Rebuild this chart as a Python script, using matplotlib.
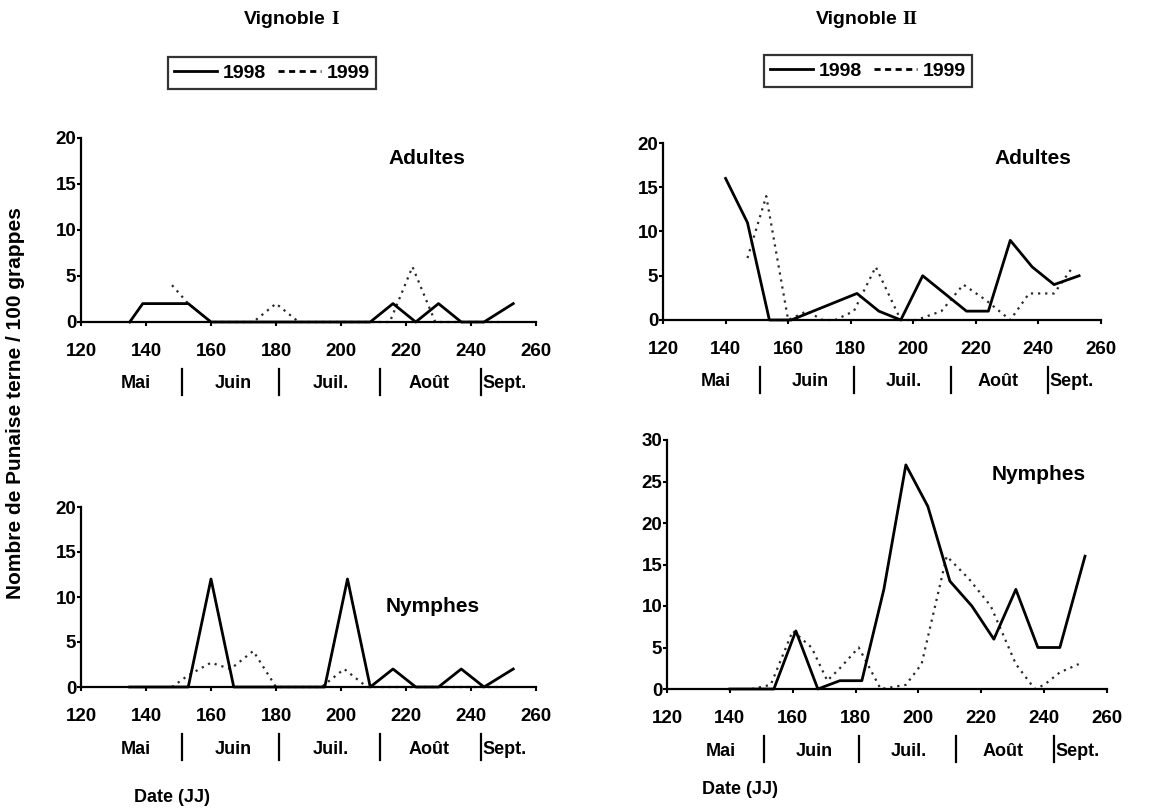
import matplotlib
matplotlib.use('Agg')
import matplotlib.pyplot as plt
from matplotlib.lines import Line2D

# Données (jour julien, nombre / 100 grappes)
jours_v1_1998 = [135, 139, 146, 153, 160, 167, 174, 181, 188, 195, 202, 209, 216, 223, 230, 237, 244, 253]
adultes_v1_1998 = [0, 2, 2, 2, 0, 0, 0, 0, 0, 0, 0, 0, 2, 0, 2, 0, 0, 2]
nymphes_v1_1998 = [0, 0, 0, 0, 12, 0, 0, 0, 0, 0, 12, 0, 2, 0, 0, 2, 0, 2]

jours_v1_1999 = [148, 153, 160, 166, 173, 180, 187, 194, 201, 208, 215, 222, 229, 236, 243, 249]
adultes_v1_1999 = [4, 2, 0, 0, 0, 2, 0, 0, 0, 0, 0, 6, 0, 0, 0, 0]
nymphes_v1_1999 = [0, 1.3, 2.7, 2, 4, 0, 0, 0, 2, 0, 0, 0, 0, 0, 0, 0]

jours_v2_1998 = [140, 147, 154, 161, 168, 175, 182, 189, 196, 203, 210, 217, 224, 231, 238, 245, 253]
adultes_v2_1998 = [16, 11, 0, 0, 1, 2, 3, 1, 0, 5, 3, 1, 1, 9, 6, 4, 5]
nymphes_v2_1998 = [0, 0, 0, 7, 0, 1, 1, 12, 27, 22, 13, 10, 6, 12, 5, 5, 16]

jours_v2_1999 = [147, 153, 160, 166, 171, 175, 181, 188, 196, 201, 209, 216, 223, 231, 237, 240, 245, 251]
adultes_v2_1999 = [7, 14, 0, 1, 0, 0, 1, 6, 0, 0, 1, 4, 2.3, 0, 3, 3, 3, 6]
nymphes_v2_1999 = [0, 0.5, 7, 5, 1, 2.5, 5, 0, 0.5, 3, 16, 13.3, 10, 3, 0, 0.5, 2, 3]

mois = ['Mai', 'Juin', 'Juil.', 'Août']
mois_centres = [137, 167, 197, 227]
separateurs = [151, 181, 212, 243]

W, H = 1161, 811
FONT = 'Liberation Sans'
plt.rcParams['font.family'] = [FONT, 'DejaVu Sans']
plt.rcParams['font.weight'] = 'bold'

fig = plt.figure(figsize=(W / 100, H / 100), dpi=100, facecolor='white')


def rect(left, top, right, bottom):
    return [left / W, 1 - bottom / H, (right - left) / W, (bottom - top) / H]


def fx(x):
    return x / W


def fy(y):
    return 1 - y / H


DOTS = (0, (1.0, 2.2))


def panneau(pos, x98, y98, x99, y99, ymax, nom, nom_xy):
    ax = fig.add_axes(rect(*pos))
    ax.plot(x98, y98, color='black', lw=2, clip_on=False, zorder=3)
    ax.plot(x99, y99, color='#2a2a2a', lw=1.6, linestyle=DOTS, clip_on=False, zorder=2)
    ax.set_xlim(120, 260)
    ax.set_ylim(0, ymax)
    ax.set_xticks(range(120, 261, 20))
    ax.set_yticks(range(0, ymax + 1, 5))
    for s in ['top', 'right']:
        ax.spines[s].set_visible(False)
    for s in ['left', 'bottom']:
        ax.spines[s].set_linewidth(1.6)
    ax.tick_params(axis='x', direction='out', length=3, width=1.5, pad=12, labelsize=13.5)
    ax.tick_params(axis='y', direction='out', length=3, width=1.5, pad=0.5, labelsize=13.5)
    for lab in ax.get_xticklabels() + ax.get_yticklabels():
        lab.set_fontweight('bold')

    # mois sous l'axe des x
    h = ax.bbox.height
    for m, c in zip(mois, mois_centres):
        ax.text(c, -62 / h, m, transform=ax.get_xaxis_transform(), ha='center', va='center',
                fontsize=13, fontweight='bold')
    ax.text(separateurs[-1] + 0.6, -62 / h, 'Sept.', transform=ax.get_xaxis_transform(),
            ha='left', va='center', fontsize=13, fontweight='bold')
    for s in separateurs:
        ax.plot([s, s], [-47 / h, -73 / h], color='black', lw=1.6,
                transform=ax.get_xaxis_transform(), clip_on=False)

    fig.text(fx(nom_xy[0]), fy(nom_xy[1]), nom, ha='center', va='center',
             fontsize=15, fontweight='bold')
    return ax


ax1 = panneau((81, 138, 536, 322), jours_v1_1998, adultes_v1_1998,
              jours_v1_1999, adultes_v1_1999, 20, 'Adultes', (427, 158))
ax2 = panneau((663, 143, 1101, 320), jours_v2_1998, adultes_v2_1998,
              jours_v2_1999, adultes_v2_1999, 20, 'Adultes', (1033, 159))
ax3 = panneau((81, 507, 536, 687), jours_v1_1998, nymphes_v1_1998,
              jours_v1_1999, nymphes_v1_1999, 20, 'Nymphes', (433, 607))
ax4 = panneau((667, 440, 1107, 689), jours_v2_1998, nymphes_v2_1998,
              jours_v2_1999, nymphes_v2_1999, 30, 'Nymphes', (1039, 475))

# titres (chiffre romain en police serif)
fig.text(fx(326), fy(20), 'Vignoble', ha='right', va='center', fontsize=14, fontweight='bold')
fig.text(fx(331), fy(20), 'I', ha='left', va='center', fontsize=14, fontweight='bold',
         family='Liberation Serif')
fig.text(fx(898), fy(20), 'Vignoble', ha='right', va='center', fontsize=14, fontweight='bold')
fig.text(fx(902), fy(20), 'II', ha='left', va='center', fontsize=14, fontweight='bold',
         family='Liberation Serif')

# légendes
poignees = [Line2D([], [], color='black', lw=2),
            Line2D([], [], color='black', lw=2, linestyle=(0, (2.2, 1.6)))]
for centre in [(272, 73), (868, 71)]:
    leg = fig.legend(poignees, ['1998', '1999'], loc='center', ncol=2,
                     bbox_to_anchor=(fx(centre[0]), fy(centre[1])),
                     prop={'family': FONT, 'weight': 'bold', 'size': 14},
                     frameon=True, fancybox=False, edgecolor='black',
                     handlelength=2.2, handletextpad=0.3, columnspacing=0.6,
                     borderpad=0.35, borderaxespad=0)
    leg.get_frame().set_linewidth(1.6)

# étiquettes des axes
fig.text(fx(16), fy(403), 'Nombre de Punaise terne / 100 grappes', rotation=90,
         ha='center', va='center', fontsize=15, fontweight='bold')
fig.text(fx(172), fy(797), 'Date (JJ)', ha='center', va='center', fontsize=13, fontweight='bold')
fig.text(fx(740), fy(790), 'Date (JJ)', ha='center', va='center', fontsize=13, fontweight='bold')

fig.savefig('out.png', dpi=100, facecolor='white')
